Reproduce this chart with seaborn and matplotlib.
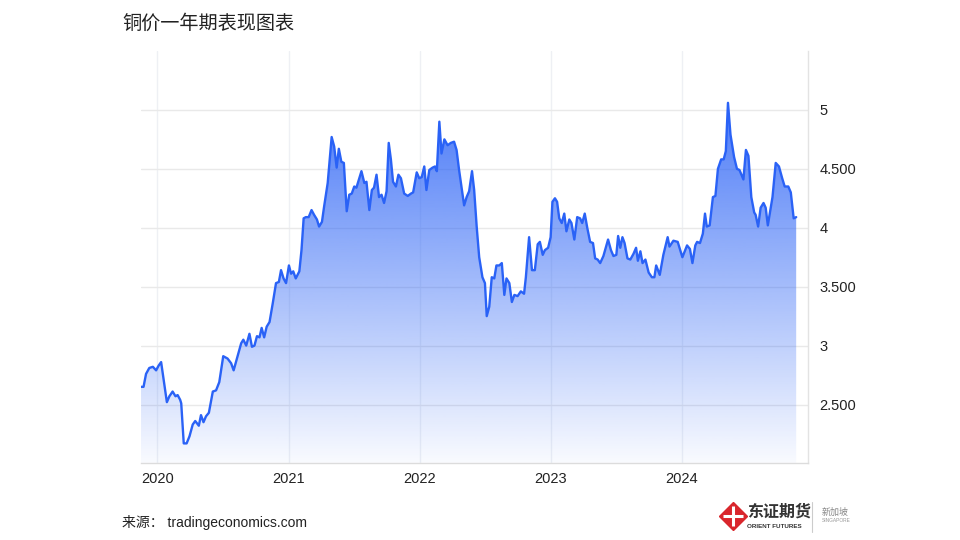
import matplotlib
matplotlib.use("Agg")
import matplotlib.pyplot as plt
import matplotlib.dates as mdates
from matplotlib.lines import Line2D
import seaborn as sns
import numpy as np
import pandas as pd

# copper price (USD/lb)
dates = [
    "2019-11-17", "2019-11-24", "2019-12-01", "2019-12-10", "2019-12-20", "2019-12-29",
    "2020-01-05", "2020-01-12", "2020-01-28", "2020-02-04", "2020-02-13", "2020-02-21",
    "2020-02-27", "2020-03-05", "2020-03-08", "2020-03-15", "2020-03-23", "2020-03-31",
    "2020-04-09", "2020-04-16", "2020-04-26", "2020-05-02", "2020-05-09", "2020-05-16",
    "2020-05-24", "2020-06-04", "2020-06-13", "2020-06-22", "2020-07-03", "2020-07-15",
    "2020-07-25", "2020-08-01", "2020-08-12", "2020-08-22", "2020-08-28", "2020-09-05",
    "2020-09-14", "2020-09-21", "2020-09-28", "2020-10-05", "2020-10-12", "2020-10-18",
    "2020-10-25", "2020-11-01", "2020-11-09", "2020-11-18", "2020-11-27", "2020-12-05",
    "2020-12-11", "2020-12-18", "2020-12-25", "2021-01-02", "2021-01-08", "2021-01-14",
    "2021-01-21", "2021-01-31", "2021-02-06", "2021-02-12", "2021-02-18", "2021-02-26",
    "2021-03-06", "2021-03-13", "2021-03-21", "2021-03-27", "2021-04-04", "2021-04-10",
    "2021-04-20", "2021-04-24", "2021-05-01", "2021-05-08", "2021-05-15", "2021-05-21",
    "2021-05-28", "2021-06-04", "2021-06-12", "2021-06-19", "2021-06-26", "2021-07-03",
    "2021-07-09", "2021-07-17", "2021-07-23", "2021-07-31", "2021-08-06", "2021-08-14",
    "2021-08-21", "2021-08-27", "2021-09-03", "2021-09-10", "2021-09-17", "2021-09-24",
    "2021-10-01", "2021-10-07", "2021-10-13", "2021-10-19", "2021-10-27", "2021-11-03",
    "2021-11-10", "2021-11-19", "2021-11-29", "2021-12-08", "2021-12-14", "2021-12-24",
    "2021-12-31", "2022-01-07", "2022-01-14", "2022-01-20", "2022-01-28", "2022-02-06",
    "2022-02-13", "2022-02-18", "2022-02-25", "2022-03-03", "2022-03-11", "2022-03-20",
    "2022-03-29", "2022-04-07", "2022-04-14", "2022-04-21", "2022-04-29", "2022-05-05",
    "2022-05-12", "2022-05-19", "2022-05-27", "2022-06-02", "2022-06-09", "2022-06-16",
    "2022-06-25", "2022-07-02", "2022-07-07", "2022-07-14", "2022-07-21", "2022-07-28",
    "2022-08-03", "2022-08-11", "2022-08-18", "2022-08-25", "2022-08-31", "2022-09-08",
    "2022-09-15", "2022-09-22", "2022-10-01", "2022-10-10", "2022-10-19", "2022-10-24",
    "2022-11-02", "2022-11-10", "2022-11-18", "2022-11-26", "2022-12-02", "2022-12-10",
    "2022-12-16", "2022-12-25", "2023-01-01", "2023-01-06", "2023-01-13", "2023-01-19",
    "2023-01-25", "2023-02-01", "2023-02-08", "2023-02-14", "2023-02-22", "2023-02-28",
    "2023-03-08", "2023-03-16", "2023-03-24", "2023-03-30", "2023-04-06", "2023-04-13",
    "2023-04-21", "2023-04-29", "2023-05-05", "2023-05-12", "2023-05-19", "2023-05-28",
    "2023-06-10", "2023-06-18", "2023-06-25", "2023-07-03", "2023-07-08", "2023-07-14",
    "2023-07-20", "2023-07-26", "2023-08-03", "2023-08-11", "2023-08-20", "2023-08-27",
    "2023-09-01", "2023-09-08", "2023-09-14", "2023-09-22", "2023-10-01", "2023-10-10",
    "2023-10-17", "2023-10-22", "2023-11-01", "2023-11-11", "2023-11-23", "2023-11-28",
    "2023-12-09", "2023-12-21", "2024-01-03", "2024-01-16", "2024-01-24", "2024-01-31",
    "2024-02-08", "2024-02-13", "2024-02-21", "2024-02-29", "2024-03-06", "2024-03-11",
    "2024-03-19", "2024-03-28", "2024-04-04", "2024-04-11", "2024-04-20", "2024-04-27",
    "2024-05-03", "2024-05-09", "2024-05-16", "2024-05-26", "2024-06-03", "2024-06-10",
    "2024-06-21", "2024-06-28", "2024-07-05", "2024-07-13", "2024-07-21", "2024-07-25",
    "2024-08-01", "2024-08-08", "2024-08-16", "2024-08-22", "2024-08-28", "2024-09-10",
    "2024-09-19", "2024-09-28", "2024-10-07", "2024-10-14", "2024-10-24", "2024-10-31",
    "2024-11-08", "2024-11-15",
]
prices = [
    2.65, 2.65, 2.76, 2.81, 2.82, 2.79,
    2.83, 2.86, 2.52, 2.57, 2.61, 2.57,
    2.58, 2.54, 2.51, 2.17, 2.17, 2.23,
    2.33, 2.36, 2.32, 2.41, 2.35, 2.40,
    2.43, 2.61, 2.62, 2.69, 2.91, 2.89,
    2.85, 2.79, 2.91, 3.02, 3.05, 3.00,
    3.10, 2.99, 3.00, 3.08, 3.07, 3.15,
    3.07, 3.16, 3.20, 3.36, 3.53, 3.54,
    3.64, 3.57, 3.53, 3.68, 3.61, 3.63,
    3.57, 3.63, 3.81, 4.08, 4.09, 4.09,
    4.15, 4.11, 4.07, 4.01, 4.05, 4.18,
    4.38, 4.52, 4.77, 4.69, 4.51, 4.67,
    4.56, 4.55, 4.14, 4.28, 4.29, 4.35,
    4.34, 4.42, 4.48, 4.38, 4.39, 4.15,
    4.32, 4.34, 4.45, 4.26, 4.28, 4.21,
    4.31, 4.72, 4.58, 4.39, 4.35, 4.45,
    4.42, 4.29, 4.27, 4.29, 4.30, 4.47,
    4.42, 4.43, 4.52, 4.32, 4.49, 4.51,
    4.52, 4.48, 4.90, 4.63, 4.75, 4.70,
    4.72, 4.73, 4.66, 4.49, 4.32, 4.19,
    4.26, 4.31, 4.48, 4.32, 4.01, 3.75,
    3.58, 3.53, 3.25, 3.33, 3.58, 3.57,
    3.68, 3.68, 3.70, 3.43, 3.57, 3.53,
    3.37, 3.43, 3.42, 3.46, 3.44, 3.58,
    3.92, 3.64, 3.64, 3.86, 3.88, 3.77,
    3.81, 3.83, 3.92, 4.22, 4.25, 4.22,
    4.08, 4.04, 4.12, 3.97, 4.07, 4.04,
    3.90, 4.09, 4.08, 4.04, 4.12, 4.00,
    3.88, 3.87, 3.74, 3.73, 3.70, 3.76,
    3.90, 3.81, 3.76, 3.77, 3.93, 3.83,
    3.92, 3.87, 3.74, 3.73, 3.78, 3.83,
    3.72, 3.80, 3.70, 3.73, 3.62, 3.58,
    3.58, 3.68, 3.60, 3.77, 3.92, 3.84,
    3.89, 3.88, 3.75, 3.85, 3.82, 3.70,
    3.85, 3.88, 3.87, 3.95, 4.12, 4.01,
    4.02, 4.26, 4.27, 4.50, 4.58, 4.58,
    4.65, 5.06, 4.79, 4.60, 4.50, 4.49,
    4.41, 4.66, 4.61, 4.26, 4.13, 4.11,
    4.01, 4.17, 4.21, 4.17, 4.02, 4.26,
    4.55, 4.52, 4.42, 4.35, 4.35, 4.30,
    4.08, 4.09,
]
year_ticks = ["2020-01-01", "2021-01-01", "2022-01-01", "2023-01-01", "2024-01-01"]
year_labels = ["2020", "2021", "2022", "2023", "2024"]
y_ticks = [2.5, 3, 3.5, 4, 4.5, 5]
y_labels = ["2.500", "3", "3.500", "4", "4.500", "5"]

title = "铜价一年期表现图表"
source = "来源： tradingeconomics.com"

df = pd.DataFrame({"date": pd.to_datetime(dates), "price": prices})

sns.set_theme(style="white")
plt.rcParams["font.family"] = ["Liberation Sans", "Noto Sans CJK SC", "DejaVu Sans"]

line_color = "#2a62f6"

fig = plt.figure(figsize=(9.6, 5.4), dpi=100)
ax = fig.add_axes([0.1469, 0.1431, 0.6948, 0.7625])

ymin, ymax = 2.006, 5.5
x0 = pd.Timestamp("2019-11-17")
x1 = pd.Timestamp("2024-12-18")

# gradient fill under the line
poly = ax.fill_between(df["date"], df["price"], ymin, color="none", lw=0)
top_val = max(prices)
n = 256
alphas = np.linspace(0.03, 0.84, n)
rgba = np.zeros((n, 1, 4))
rgba[:, 0, :3] = matplotlib.colors.to_rgb(line_color)
rgba[:, 0, 3] = alphas
img = ax.imshow(rgba, extent=[mdates.date2num(x0), mdates.date2num(x1), ymin, top_val],
                aspect="auto", origin="lower", zorder=1)
img.set_clip_path(poly.get_paths()[0], transform=ax.transData)

sns.lineplot(data=df, x="date", y="price", ax=ax, color=line_color, lw=1.7, zorder=3)

ax.set_xlim(x0, x1)
ax.set_ylim(ymin, ymax)

ax.set_xticks(pd.to_datetime(year_ticks))
ax.set_xticklabels(year_labels)
ax.yaxis.tick_right()
ax.set_yticks(y_ticks)
ax.set_yticklabels(y_labels)
ax.tick_params(axis="both", length=0, labelsize=10.5, labelcolor="#222222")
ax.tick_params(axis="x", pad=7)
ax.tick_params(axis="y", pad=8)
ax.set_xlabel("")
ax.set_ylabel("")

ax.grid(True, axis="y", color="#e9e9e9", lw=1.0)
ax.grid(True, axis="x", color="#eef0f4", lw=1.0)
ax.set_axisbelow(True)
for s in ["top", "left"]:
    ax.spines[s].set_visible(False)
ax.spines["bottom"].set_color("#dcdcdc")
ax.spines["right"].set_color("#e3e3e3")
ax.spines["bottom"].set_linewidth(1.0)
ax.spines["right"].set_linewidth(1.0)

fig.text(122 / 960, 1 - 24 / 540, title, fontsize=13.8, color="#222222", va="center", ha="left")
fig.text(122 / 960, 1 - 523 / 540, source, fontsize=10, color="#222222", va="center", ha="left")

# logo block
fig.add_artist(Line2D([733 / 960], [1 - 516 / 540], marker="D", markersize=14,
                      color="#d9262c", transform=fig.transFigure))
fig.add_artist(Line2D([733 / 960], [1 - 516 / 540], marker="+", markersize=14, mew=2.2,
                      color="white", transform=fig.transFigure))
fig.text(747 / 960, 1 - 512 / 540, "东证期货", fontsize=11.5, color="#333333",
         fontweight="bold", va="center", ha="left")
fig.text(747 / 960, 1 - 526 / 540, "ORIENT FUTURES", fontsize=4.5, color="#333333",
         fontweight="bold", va="center", ha="left")
fig.add_artist(Line2D([812 / 960, 812 / 960], [1 - 502 / 540, 1 - 532 / 540],
                      color="#cccccc", lw=0.8, transform=fig.transFigure))
fig.text(822 / 960, 1 - 512 / 540, "新加坡", fontsize=6.5, color="#888888",
         va="center", ha="left")
fig.text(822 / 960, 1 - 521 / 540, "SINGAPORE", fontsize=3.5, color="#999999",
         va="center", ha="left")

fig.savefig("out.png", dpi=100, facecolor="white")
